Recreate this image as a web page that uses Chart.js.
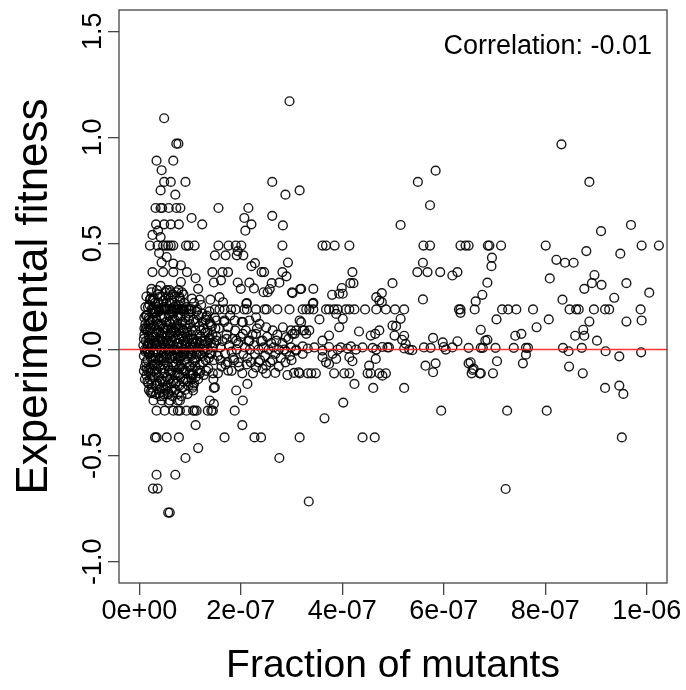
<!DOCTYPE html>
<html>
<head>
<meta charset="utf-8">
<script src="https://cdn.jsdelivr.net/npm/chart.js@4.4.1/dist/chart.umd.min.js"></script>
<style>
  html, body { margin: 0; padding: 0; background: #fff; }
  #wrap { width: 686px; height: 690px; }
</style>
</head>
<body>
<div id="wrap"><canvas id="fitChart" width="686" height="690"></canvas></div>
<script>
// === DATA (x in units of 1e-7 fraction of mutants, y = experimental fitness) ===
const X_UNIT = 1e-7;
const xTickValues = [0, 2e-7, 4e-7, 6e-7, 8e-7, 1e-6];
const xTickLabels = ['0e+00', '2e-07', '4e-07', '6e-07', '8e-07', '1e-06'];
const yTickValues = [-1, -0.5, 0, 0.5, 1, 1.5];
const yTickLabels = ['-1.0', '-0.5', '0.0', '0.5', '1.0', '1.5'];
const X_MIN = -0.4e-7, X_MAX = 10.4e-7;
const Y_MIN = -1.1, Y_MAX = 1.6;
const correlationText = 'Correlation: -0.01';

// high fitness points, left half
const upperLeft = [
  [2.96,1.17],[0.49,1.09],[0.73,0.97],[0.77,0.97],[0.34,0.89],[0.67,0.89],[0.44,0.845],
  [0.49,0.79],[0.62,0.79],[0.91,0.79],[0.42,0.75],[0.71,0.73],[2.62,0.79],[2.88,0.73],[3.16,0.75],
  [0.32,0.667],[0.42,0.667],[0.45,0.667],[0.58,0.667],[0.73,0.667],[0.81,0.667],[1.56,0.667],[2.15,0.667],
  [1.03,0.62],[1.24,0.59],[0.33,0.59],[0.49,0.59],[0.62,0.59],[0.78,0.59],[2.07,0.62],[2.21,0.59],
  [2.09,0.56],[2.62,0.63],[2.83,0.585],[0.26,0.54],[0.37,0.56],[0.42,0.53],
  [0.21,0.49],[0.36,0.49],[0.47,0.49],[0.52,0.49],[0.57,0.49],[0.62,0.49],[0.67,0.49],[0.92,0.49],
  [0.97,0.49],[1.09,0.49],[1.56,0.49],[1.76,0.49],[1.90,0.49],[2.01,0.49],[2.82,0.49],
  [3.61,0.49],[3.68,0.49],[3.85,0.49],[4.14,0.49],
  [0.39,0.455],[0.54,0.436],[1.49,0.444],[1.70,0.444],[1.92,0.444],[2.05,0.444],[1.94,0.464],
  [0.44,0.41],[0.67,0.405],[0.82,0.397],[2.28,0.407],[2.21,0.393],[2.93,0.41],
  [0.26,0.365],[0.47,0.365],[0.67,0.365],[0.94,0.365],[1.44,0.365],[1.64,0.365],[1.75,0.365],
  [2.41,0.365],[2.46,0.365],[2.82,0.365],[4.20,0.365],
  [2.90,0.345],[1.11,0.336],[0.82,0.318],[1.47,0.316],[1.61,0.326],[1.94,0.316],[2.00,0.286],
  [2.17,0.315],[2.26,0.288],[2.61,0.313],[2.76,0.315],[2.57,0.285],[2.45,0.27],[2.53,0.27],
  [3.01,0.27],[3.17,0.285],[0.24,0.286],[0.21,0.235],[0.26,0.235],[1.16,0.286],[1.19,0.235],
  [0.80,0.24],[1.40,0.235],[1.58,0.247],[1.65,0.223],[2.12,0.219],[2.11,0.216],[3.42,0.216],
  [4.16,0.313],[4.22,0.313],[3.99,0.29],[3.94,0.263],[3.80,0.258],[4.01,0.263],[3.43,0.286],
  [3.19,0.286],[3.02,0.266],[3.43,0.22]
];

// high fitness points, right half
const upperRight = [
  [5.84,0.843],[5.49,0.79],[5.73,0.68],[5.15,0.587],[5.60,0.49],[5.73,0.49],[6.33,0.49],
  [6.43,0.49],[6.87,0.49],[6.49,0.49],[6.90,0.49],[7.13,0.49],[8.01,0.49],[9.90,0.49],[10.24,0.49],
  [5.59,0.409],[5.48,0.365],[5.68,0.365],[5.93,0.365],[6.27,0.365],[6.17,0.349],
  [4.99,0.313],[4.78,0.266],[4.67,0.247],[4.73,0.231],[4.78,0.223],[5.59,0.236],[6.76,0.258],[6.63,0.227],
  [8.32,0.967],[8.87,0.79],[9.69,0.587],[9.10,0.558],[6.95,0.433],[6.94,0.393],[8.22,0.423],
  [8.39,0.409],[8.56,0.409],[8.81,0.464],[9.48,0.452],[8.09,0.335],[8.97,0.351],[8.92,0.313],
  [8.77,0.286],[9.11,0.305],[9.60,0.313],[10.05,0.268],[9.36,0.244],[6.86,0.315],[8.34,0.235]
];

// the row of points at fitness ~0.19
const rowPointNineteen = [
  0.26,0.30,0.34,0.39,0.44,0.49,0.54,0.59,0.63,0.68,0.73,0.78,0.83,0.88,0.93,0.98,1.03,1.14,
  1.49,1.58,1.68,1.81,1.90,2.07,2.12,2.30,2.47,2.51,2.72,2.96,3.22,3.29,3.35,3.43,3.68,3.74,
  3.84,3.91,4.07,4.14,4.24,4.45,4.67,4.86,5.04,5.22,6.30,6.33,6.61,7.15,7.27,7.43,7.76,
  8.48,8.61,8.66,8.96,9.18,9.26,9.88
];

// small positive fitness, away from the dense cluster
const lowPositive = [
  [6.33,0.173],[3.88,0.168],[4.01,0.145],[3.55,0.142],[3.94,0.105],[5.15,0.145],[4.99,0.113],
  [5.06,0.11],[4.33,0.085],[4.73,0.09],[4.56,0.066],[4.65,0.074],[6.73,0.093],[5.79,0.055],
  [5.98,0.034],[6.27,0.039],[5.18,0.046],[5.25,0.027],[3.74,0.066],[3.61,0.042],[3.16,0.137],
  [3.02,0.074],[3.35,0.09],[3.22,0.09],[3.09,0.09],[0.13,0.093],[7.04,0.142],[7.83,0.105],
  [8.07,0.142],[8.87,0.132],[8.75,0.093],[8.77,0.065],[8.59,0.065],[9.60,0.132],[9.90,0.137],
  [6.86,0.046],[7.41,0.065],[7.53,0.074],[9.02,0.042],[3.29,0.074],[5.03,0.066],[5.22,0.065],
  [6.82,0.042],
  [1.32,0.152],[1.39,0.129],[1.52,0.137],[1.68,0.137],[1.75,0.105],[1.88,0.137],[2.04,0.129],
  [2.17,0.137],[2.30,0.152],[2.37,0.121],[2.50,0.105],[2.63,0.09],[2.83,0.105],[2.99,0.09],
  [3.19,0.129],[3.25,0.09],[3.06,0.074],[2.89,0.058],[2.70,0.042],[2.43,0.042],[2.17,0.042],
  [1.91,0.042],[1.72,0.05],[1.52,0.042],[1.39,0.058],[2.30,0.074],[2.04,0.074]
];

// dense cluster at low mutant fraction
const denseCluster = [
  [0.08,0.02],[0.09,-0.03],[0.10,0.07],[0.11,-0.08],[0.12,0.12],[0.12,-0.01],[0.13,0.04],[0.14,-0.12],
  [0.15,0.0],[0.15,0.16],[0.16,-0.05],[0.17,0.09],[0.18,-0.16],[0.18,0.03],[0.19,-0.02],[0.20,0.21],
  [0.20,-0.09],[0.21,0.05],[0.22,-0.20],[0.22,0.13],[0.23,-0.04],[0.24,0.01],[0.24,0.27],[0.25,-0.13],
  [0.26,0.08],[0.26,-0.07],[0.27,0.17],[0.28,-0.01],[0.28,-0.24],[0.29,0.11],[0.30,0.03],[0.30,-0.10],
  [0.31,0.22],[0.32,-0.04],[0.32,0.06],[0.33,-0.17],[0.34,0.14],[0.34,0.0],[0.35,-0.07],[0.36,0.26],
  [0.36,0.09],[0.37,-0.02],[0.38,-0.13],[0.38,0.04],[0.39,0.18],[0.40,-0.05],[0.40,0.11],[0.41,-0.22],
  [0.42,0.02],[0.42,0.30],[0.43,-0.09],[0.44,0.07],[0.44,-0.01],[0.45,0.15],[0.46,-0.15],[0.46,0.04],
  [0.47,0.23],[0.48,-0.04],[0.48,0.10],[0.49,-0.11],[0.50,0.01],[0.50,0.19],[0.51,-0.19],[0.52,0.06],
  [0.52,-0.06],[0.53,0.13],[0.54,-0.02],[0.54,0.28],[0.55,-0.13],[0.56,0.03],[0.56,0.09],[0.57,-0.08],
  [0.58,0.16],[0.58,-0.25],[0.59,0.0],[0.60,0.22],[0.60,-0.04],[0.61,0.07],[0.62,-0.16],[0.62,0.12],
  [0.63,-0.01],[0.64,0.04],[0.64,-0.10],[0.65,0.18],[0.66,-0.06],[0.66,0.26],[0.67,0.02],[0.68,-0.20],
  [0.68,0.09],[0.69,-0.03],[0.70,0.14],[0.70,-0.12],[0.71,0.05],[0.72,-0.07],[0.72,0.21],[0.73,0.0],
  [0.74,-0.15],[0.74,0.11],[0.75,-0.02],[0.76,0.07],[0.76,-0.24],[0.77,0.16],[0.78,-0.09],[0.78,0.03],
  [0.79,0.25],[0.80,-0.04],[0.80,0.10],[0.81,-0.13],[0.82,0.01],[0.82,0.19],[0.83,-0.07],[0.84,0.06],
  [0.85,-0.18],[0.85,0.13],[0.86,-0.01],[0.87,0.04],[0.88,-0.10],[0.88,0.22],[0.89,0.08],[0.90,-0.05],
  [0.91,0.15],[0.92,-0.14],[0.92,0.02],[0.93,0.10],[0.94,-0.03],[0.95,-0.21],[0.96,0.05],[0.97,0.17],
  [0.98,-0.08],[0.99,0.0],[1.00,0.12],[1.01,-0.12],[1.02,0.07],[1.03,-0.02],[1.04,0.24],[1.05,0.03],
  [1.06,-0.06],[1.07,0.14],[1.08,-0.16],[1.09,0.01],[1.10,0.09],[1.12,-0.04],[1.13,0.18],[1.14,-0.10],
  [1.15,0.04],[1.17,-0.01],[1.18,0.11],[1.19,-0.07],[1.21,0.06],[1.22,0.21],[1.24,-0.03],[1.25,0.13],
  [1.27,-0.12],[1.28,0.02],[1.30,0.08],[1.31,-0.05],[1.33,0.16],[1.35,0.0],[1.36,-0.09],[1.38,0.05],
  [1.40,0.12],[1.42,-0.02],[1.44,0.07],[1.46,-0.14],[1.48,0.03],[1.50,0.10],
  [0.09,0.05],[0.11,0.0],[0.13,-0.06],[0.14,0.10],[0.16,0.02],[0.17,-0.10],[0.19,0.06],[0.21,-0.02],
  [0.23,0.10],[0.25,0.02],[0.27,-0.05],[0.29,0.04],[0.31,-0.01],[0.33,0.08],[0.35,0.02],[0.37,0.12],
  [0.39,-0.08],[0.41,0.05],[0.43,0.00],[0.45,-0.04],[0.47,0.08],[0.49,0.03],[0.51,-0.01],[0.53,0.04],
  [0.55,0.10],[0.57,0.00],[0.59,-0.10],[0.61,0.02],[0.63,0.08],[0.65,-0.03],[0.67,0.06],[0.69,0.00],
  [0.71,-0.04],[0.73,0.08],[0.75,0.03],[0.77,-0.01],[0.79,0.05],[0.81,-0.08],[0.83,0.02],[0.86,0.09],
  [0.89,-0.02],[0.91,0.03],[0.94,0.06],[0.97,-0.01],[1.00,0.02],[1.03,0.05],[1.06,0.00],[1.09,-0.05],
  [1.11,0.03],[1.16,0.01],[1.20,-0.02],[1.23,0.04],[1.26,0.00],[1.29,-0.01],[1.34,0.03],[1.39,-0.02],
  [1.45,0.01],
  [0.20,0.14],[0.24,0.19],[0.28,0.24],[0.32,0.18],[0.35,0.28],[0.38,0.22],[0.42,0.16],[0.45,0.25],
  [0.48,0.20],[0.51,0.27],[0.53,0.22],[0.57,0.25],[0.60,0.28],[0.63,0.23],[0.67,0.17],[0.70,0.25],
  [0.74,0.19],[0.77,0.28],[0.81,0.23],[0.84,0.27],[0.87,0.18],
  [0.21,-0.14],[0.25,-0.18],[0.29,-0.13],[0.33,-0.21],[0.36,-0.16],[0.40,-0.19],[0.43,-0.14],[0.47,-0.22],
  [0.50,-0.15],[0.53,-0.18],[0.57,-0.20],[0.60,-0.14],[0.64,-0.19],[0.67,-0.15],[0.71,-0.19],[0.75,-0.11],
  [0.79,-0.17],[0.83,-0.22],[0.87,-0.15],[0.90,-0.19],[0.96,-0.15],[1.05,-0.18],[1.11,-0.13],
  [0.10,0.15],[0.12,0.20],[0.14,0.25],[0.16,-0.15],[0.18,0.12],[0.19,-0.19],[0.21,0.09],[0.23,-0.09],
  [0.25,0.14],[0.27,-0.20],[0.28,0.06],[0.30,0.17],[0.31,-0.07],[0.33,0.03],[0.34,-0.11],[0.36,0.20],
  [0.37,-0.05],[0.39,0.08],[0.40,-0.15],[0.41,0.25],[0.43,0.12],[0.44,-0.18],[0.46,0.10],[0.47,-0.07],
  [0.49,0.15],[0.50,-0.09],[0.52,0.24],[0.53,-0.03],[0.55,0.06],[0.56,-0.17],[0.58,0.04],[0.59,0.13],
  [0.61,-0.11],[0.62,0.27],[0.64,0.10],[0.65,-0.22],[0.66,0.14],[0.68,-0.08],[0.69,0.20],[0.71,0.10],
  [0.72,-0.16],[0.73,0.27],[0.75,0.12],[0.76,-0.05],[0.78,0.21],[0.79,-0.12],[0.81,0.16],[0.82,-0.03],
  [0.84,0.10],[0.85,-0.09],[0.87,0.26],[0.88,0.00],[0.90,0.12],[0.91,-0.10],[0.93,0.20],[0.94,-0.06],
  [0.95,0.08],[0.97,-0.17],[0.98,0.14],[1.00,-0.08],[1.01,0.19],[1.02,-0.03],[1.04,0.09],[1.05,-0.12],
  [1.07,0.05],[1.08,0.22],[1.10,-0.08],[1.11,0.13],[1.13,-0.02],[1.14,0.07],[1.16,-0.14],[1.17,0.16],
  [1.19,0.03],[1.20,-0.10],[1.22,0.09],[1.24,0.17],[1.26,-0.06],[1.27,0.10],[1.29,0.04],[1.31,0.14],
  [1.32,-0.10],[1.34,0.08],[1.37,-0.04],[1.38,0.18],[1.41,0.03],[1.43,0.11],[1.47,-0.05],[1.49,0.15],
  [0.09,-0.10],[0.10,0.10],[0.11,-0.14],[0.13,0.16],[0.15,-0.09],[0.17,0.20],[0.17,-0.01],[0.19,0.15],
  [0.20,0.03],[0.22,-0.11],[0.22,0.24],[0.24,-0.16]
];

// band around zero between 1.5e-7 and 3e-7
const midBand = [
  [1.52,0.06],[1.55,-0.03],[1.57,0.10],[1.60,0.01],[1.62,-0.08],[1.64,0.04],[1.67,0.13],[1.69,-0.02],
  [1.72,0.07],[1.74,-0.06],[1.77,0.02],[1.79,0.16],[1.82,-0.01],[1.84,0.05],[1.87,-0.05],[1.89,0.09],
  [1.92,0.0],[1.95,0.03],[1.97,-0.08],[2.00,0.06],[2.02,0.13],[2.05,-0.02],[2.08,0.01],[2.10,0.09],
  [2.13,-0.04],[2.15,0.04],[2.18,0.0],[2.20,-0.06],[2.23,0.07],[2.26,0.02],[2.28,-0.02],[2.32,0.10],
  [2.35,0.0],[2.38,-0.05],[2.40,0.04],[2.45,0.01],[2.48,-0.03],[2.52,0.06],[2.55,0.0],[2.58,-0.06],
  [2.60,0.03],[2.65,0.01],[2.68,-0.02],[2.72,0.07],[2.75,0.0],[2.79,-0.04],[2.82,0.03],[2.86,0.0],
  [2.90,-0.01],[2.94,0.05],[2.97,-0.03],
  [1.60,-0.05],[1.70,-0.07],[1.85,-0.04],[1.95,-0.06],[2.12,-0.07],[2.35,-0.06],[2.62,-0.05],
  [2.75,-0.08],[2.88,-0.06],[3.00,-0.05],[1.82,-0.10],[2.68,-0.11],[2.92,-0.12],[3.05,-0.11]
];

// points on / just around the zero line, right of 3e-7
const nearZero = [
  [2.99,0.01],[3.09,0.0],[3.22,0.015],[3.32,0.005],[3.45,0.01],[3.61,-0.005],[3.74,0.012],[3.91,0.0],
  [3.97,0.01],[4.10,0.005],[4.17,0.015],[4.27,0.0],[4.40,0.01],[4.60,0.008],[4.67,0.0],[4.79,0.012],
  [4.89,0.01],[4.92,0.01],[5.22,0.005],[5.32,0.0],[5.38,-0.003],[5.61,0.01],[5.74,0.008],[6.00,0.012],
  [6.04,0.0],[6.17,0.01],
  [6.49,0.008],[6.73,0.008],[6.77,0.008],[7.02,0.008],[7.38,0.008],[7.62,0.008],[7.66,0.008],
  [8.35,0.008],[8.46,-0.008],[8.72,0.008],[9.19,-0.008],[9.46,-0.032],[9.89,-0.013]
];

// negative fitness points
const negative = [
  [0.24,-0.206],[0.39,-0.206],[0.47,-0.21],[0.57,-0.21],[0.76,-0.21],[0.80,-0.24],[0.44,-0.24],[0.60,-0.24],
  [0.34,-0.288],[0.50,-0.288],[0.67,-0.288],[0.76,-0.288],[0.80,-0.288],[0.93,-0.288],[1.06,-0.288],
  [1.09,-0.288],[1.13,-0.288],[1.35,-0.288],[1.42,-0.288],[1.45,-0.288],[1.88,-0.288],[7.25,-0.288],
  [8.03,-0.288],[5.95,-0.288],
  [1.39,-0.24],[1.47,-0.256],[1.47,-0.181],[1.49,-0.178],[1.03,-0.138],[1.06,-0.17],[1.06,-0.193],
  [1.91,-0.193],[2.04,-0.24],[2.13,-0.162],[2.03,-0.356],[1.11,-0.356],
  [0.31,-0.414],[0.34,-0.414],[0.54,-0.414],[0.78,-0.414],[1.68,-0.414],[2.27,-0.414],[2.40,-0.414],
  [3.16,-0.414],[4.40,-0.414],[4.64,-0.414],[9.51,-0.414],
  [1.16,-0.464],[0.91,-0.511],[2.76,-0.511],[0.34,-0.59],[0.71,-0.59],[0.27,-0.655],[0.36,-0.655],
  [0.57,-0.768],[0.60,-0.768],[3.34,-0.716],[7.22,-0.657],
  [4.24,-0.162],[4.61,-0.181],[5.22,-0.181],[4.02,-0.25],[3.65,-0.324],[9.18,-0.181],[9.46,-0.17],
  [9.54,-0.209],
  [3.16,-0.112],[3.32,-0.112],[3.39,-0.112],[3.48,-0.112],[3.84,-0.112],[4.04,-0.112],[4.14,-0.112],
  [4.50,-0.112],[4.56,-0.112],[4.73,-0.112],[4.86,-0.112],[6.55,-0.112],[6.71,-0.112],[6.73,-0.112],
  [6.97,-0.112],[8.74,-0.112],
  [1.75,-0.099],[2.03,-0.112],[2.24,-0.112],[2.50,-0.112],[3.14,-0.107],[2.30,-0.084],[2.43,-0.091],
  [2.50,-0.076],[0.99,-0.112],[1.06,-0.112],[1.19,-0.112],[1.45,-0.112],[1.55,-0.112],
  [3.22,-0.02],[3.09,-0.005],[3.61,-0.036],[3.81,-0.02],[3.68,-0.06],[3.74,-0.068],[3.88,-0.044],
  [4.14,-0.036],[4.20,-0.055],[4.53,-0.076],[4.66,-0.044],[5.64,-0.076],[5.84,-0.065],[5.79,-0.107],
  [6.49,-0.065],[6.59,-0.09],[4.79,-0.123],[6.53,-0.06],[6.57,-0.096],[7.05,-0.055],[7.56,-0.065],
  [8.47,-0.08],[7.62,-0.024]
];

// === BUILD POINTS ===
const toPoint = p => ({ x: p[0] * X_UNIT, y: p[1] });
const allPoints = []
  .concat(upperLeft, upperRight, lowPositive, denseCluster, midBand, nearZero, negative)
  .map(toPoint)
  .concat(rowPointNineteen.map(x => ({ x: x * X_UNIT, y: 0.189 })));

const FONT = '"Liberation Sans", Arial, Helvetica, sans-serif';

// box + all text drawn R-style
const rDecor = {
  id: 'rDecor',
  afterDraw(chart) {
    const { ctx, chartArea: a, scales } = chart;
    ctx.save();
    ctx.strokeStyle = '#444';
    ctx.lineWidth = 1.3;
    ctx.strokeRect(a.left, a.top, a.right - a.left, a.bottom - a.top);

    ctx.fillStyle = '#000';
    ctx.font = '27px ' + FONT;
    ctx.textAlign = 'center';
    ctx.textBaseline = 'alphabetic';
    xTickValues.forEach((v, i) => {
      ctx.fillText(xTickLabels[i], scales.x.getPixelForValue(v), 619);
    });
    yTickValues.forEach((v, i) => {
      ctx.save();
      ctx.translate(101, scales.y.getPixelForValue(v));
      ctx.rotate(-Math.PI / 2);
      ctx.fillText(yTickLabels[i], 0, 0);
      ctx.restore();
    });

    ctx.font = '39px ' + FONT;
    ctx.fillText('Fraction of mutants', (a.left + a.right) / 2, 677);
    ctx.font = '44px ' + FONT;
    ctx.save();
    ctx.translate(47, (a.top + a.bottom) / 2);
    ctx.rotate(-Math.PI / 2);
    ctx.fillText('Experimental fitness', 0, 0);
    ctx.restore();

    ctx.font = '27px ' + FONT;
    ctx.textAlign = 'right';
    ctx.fillText(correlationText, 652, 54);
    ctx.restore();
  }
};

const ctx = document.getElementById('fitChart').getContext('2d');
const fitChart = new Chart(ctx, {
  type: 'scatter',
  data: {
    datasets: [{
      type: 'line',
      data: [{ x: X_MIN, y: 0 }, { x: X_MAX, y: 0 }],
      borderColor: 'rgba(255, 30, 30, 0.9)',
      borderWidth: 1.6,
      pointRadius: 0,
      order: 0
    }, {
      data: allPoints,
      pointStyle: 'circle',
      pointRadius: 4.4,
      pointBorderWidth: 1.4,
      borderColor: 'rgba(0, 0, 0, 0.9)',
      backgroundColor: 'rgba(0, 0, 0, 0)',
      order: 1
    }]
  },
  options: {
    responsive: false,
    animation: false,
    devicePixelRatio: 1,
    layout: { padding: { left: 0, right: 19, top: 10, bottom: 0 } },
    plugins: { legend: { display: false }, tooltip: { enabled: false } },
    scales: {
      x: {
        type: 'linear',
        min: X_MIN,
        max: X_MAX,
        afterBuildTicks: s => { s.ticks = xTickValues.map(v => ({ value: v })); },
        afterFit: s => { s.height = 107; },
        ticks: { display: false },
        border: { display: false },
        grid: { drawOnChartArea: false, drawTicks: true, tickLength: 12, color: '#444', lineWidth: 1.3 }
      },
      y: {
        type: 'linear',
        min: Y_MIN,
        max: Y_MAX,
        afterBuildTicks: s => { s.ticks = yTickValues.map(v => ({ value: v })); },
        afterFit: s => { s.width = 119; },
        ticks: { display: false },
        border: { display: false },
        grid: { drawOnChartArea: false, drawTicks: true, tickLength: 11, color: '#444', lineWidth: 1.3 }
      }
    }
  },
  plugins: [rDecor]
});
</script>
</body>
</html>
